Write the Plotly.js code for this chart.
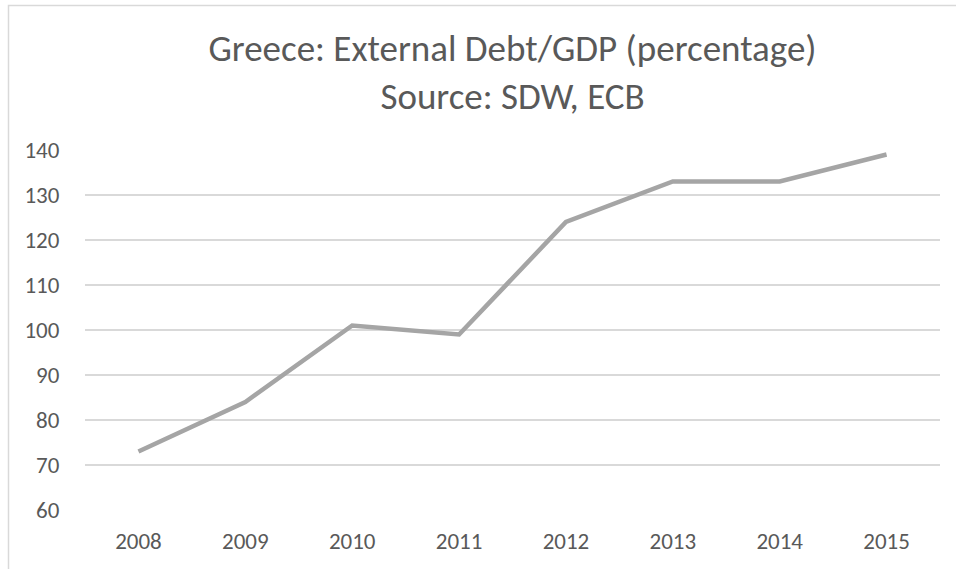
<!DOCTYPE html>
<html>
<head>
<meta charset="utf-8">
<script src="https://cdn.plot.ly/plotly-3.0.1.min.js"></script>
<style>html,body{margin:0;padding:0;background:#fff;}#chart{width:956px;height:569px;}</style>
</head>
<body>
<div id="chart"></div>
<script>
const years = ['2008','2009','2010','2011','2012','2013','2014','2015'];
const debtToGdp = [73, 84, 101, 99, 124, 133, 133, 139];
const yTicks = [60, 70, 80, 90, 100, 110, 120, 130, 140];

const fontFam = 'Carlito, Calibri, "Open Sans", sans-serif';
const trace = {
  x: years, y: debtToGdp, type: 'scatter', mode: 'lines',
  line: {color: '#A5A5A5', width: 4.5, shape: 'linear'},
  hoverinfo: 'x+y'
};
const layout = {
  width: 956, height: 569,
  margin: {l: 85, r: 16, t: 150, b: 59},
  paper_bgcolor: '#fff', plot_bgcolor: '#fff',
  showlegend: false,
  font: {family: fontFam, color: '#595959', size: 23},
  title: {
    text: 'Greece: External Debt/GDP (percentage)<br>Source: SDW, ECB',
    font: {family: fontFam, size: 37, color: '#595959'},
    x: 0.5, xref: 'paper', xanchor: 'center',
    y: 1 - 61 / 569, yref: 'container', yanchor: 'middle'
  },
  xaxis: {
    type: 'category', range: [-0.5, 7.5],
    showgrid: false, zeroline: false, showline: false,
    ticks: 'outside', ticklen: 10, tickcolor: 'rgba(0,0,0,0)',
    tickfont: {family: fontFam, size: 23, color: '#595959'}
  },
  yaxis: {
    range: [60, 140], tickvals: yTicks, ticktext: yTicks.map(String),
    showgrid: true, gridcolor: '#D9D9D9', gridwidth: 1.3,
    zeroline: false, showline: false,
    ticks: 'outside', ticklen: 20, tickcolor: 'rgba(0,0,0,0)',
    tickfont: {family: fontFam, size: 23, color: '#595959'}
  },
  shapes: [{
    type: 'rect', xref: 'paper', yref: 'paper',
    x0: (8.5 - 85) / 855, x1: 2, y0: -1, y1: (510 - 5.5) / 360,
    line: {color: '#D9D9D9', width: 1.5}, fillcolor: 'rgba(0,0,0,0)', layer: 'below'
  }]
};
Plotly.newPlot('chart', [trace], layout, {displayModeBar: false, staticPlot: true});
</script>
</body>
</html>
